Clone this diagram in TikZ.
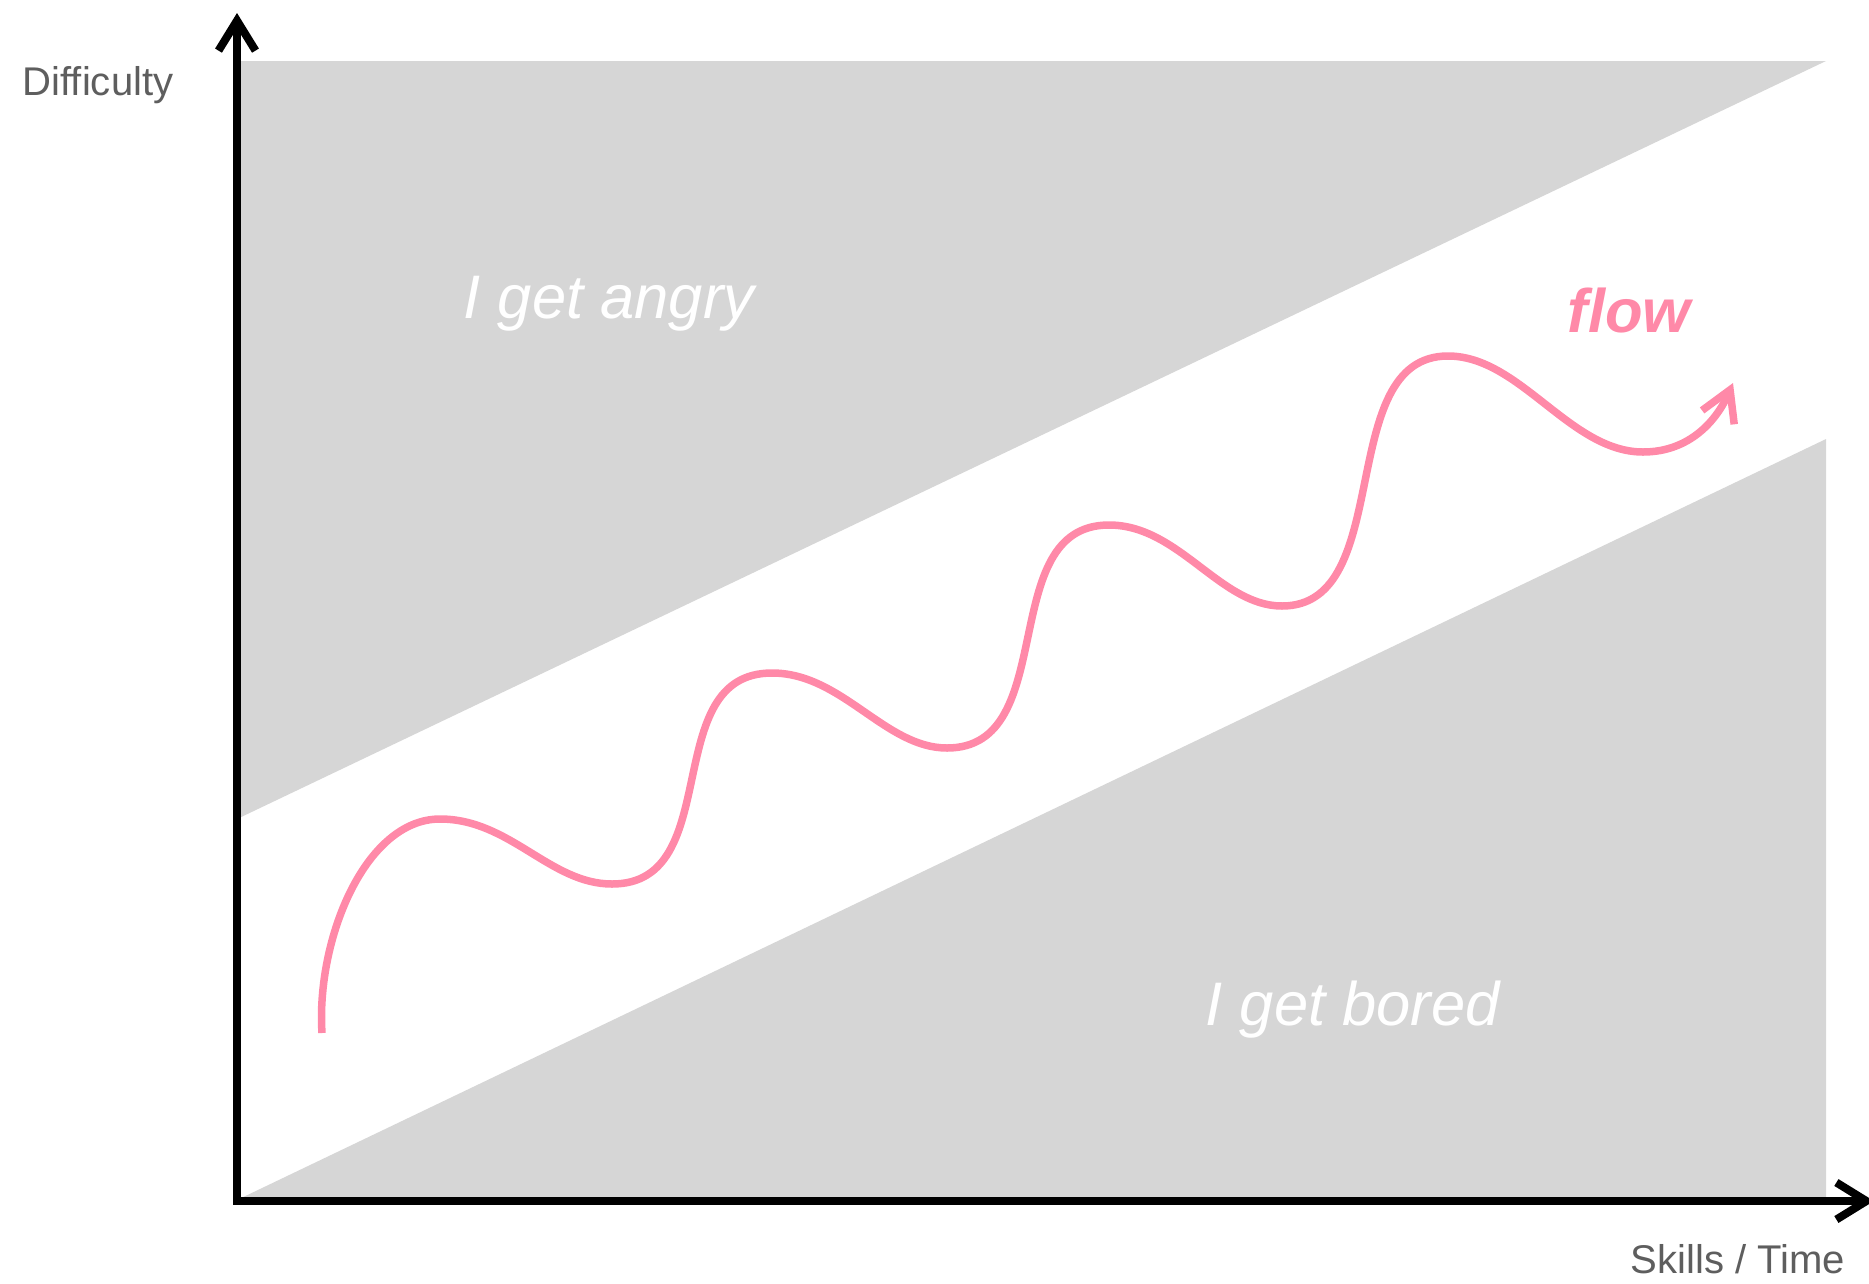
\documentclass[tikz,border=0pt]{standalone}
\usepackage{fontspec}
\setmainfont{Liberation Sans}
\usetikzlibrary{arrows.meta}
\definecolor{czone}{HTML}{D6D6D6}
\definecolor{cflow}{HTML}{FF89A8}
\definecolor{caxis}{HTML}{5E5E5E}

\begin{document}
\begin{tikzpicture}[x=0.1mm, y=-0.1mm,
  zone/.style={fill=czone, draw=none},
  axis/.style={line width=0.8mm,
               {Straight Barb[length=3mm, width=3.7mm]}-{Straight Barb[length=3mm, width=3.7mm]}},
  axislbl/.style={text=caxis, font=\fontsize{11.4pt}{13pt}\selectfont,
                  inner sep=0pt, anchor=base west},
  zonelbl/.style={text=white, font=\fontsize{17.5pt}{20pt}\selectfont\itshape,
                  inner sep=0pt, anchor=base west},
  wave/.style={cflow, line width=0.75mm, -{Straight Barb[length=3mm, width=3.5mm]}}
]
\useasboundingbox (0,0) rectangle (1869,1283);

%% Zones
\fill[zone] (237,61) -- (1826,61) -- (237,819) -- cycle;
\fill[zone] (237,1200) -- (1826,439) -- (1826,1200) -- cycle;

%% Axes
\coordinate (o)    at (237,1201);
\coordinate (ytip) at (237,13);
\coordinate (xtip) at (1874,1201);
\draw[axis] (ytip) -- (o) -- (xtip);

\node[axislbl] (ylbl) at (22,95)    {Difficulty};
\node[axislbl] (xlbl) at (1630,1273) {Skills / Time};

%% Zone labels
\node[zonelbl] (angry) at (463,318)  {I get angry};
\node[zonelbl] (bored) at (1205,1025) {I get bored};
\node[zonelbl, text=cflow, font=\fontsize{17.5pt}{20pt}\selectfont\bfseries\itshape]
  (flow) at (1567,332) {flow};

%% Flow wave
\coordinate (ws) at (322,1033);
\coordinate (we) at (1733,383);
\draw[wave] (ws) .. controls (316,940) and (365,819) .. (440,819)
  .. controls (510,819) and (550,884) .. (612,884)
  .. controls (727,884) and (657,673) .. (772,673)
  .. controls (842,673) and (885,748) .. (947,748)
  .. controls (1062,748) and (994,525) .. (1109,525)
  .. controls (1179,525) and (1220,606) .. (1282,606)
  .. controls (1397,606) and (1333,356) .. (1448,356)
  .. controls (1520,356) and (1570,452) .. (1643,452)
  .. controls (1690,452) and (1717,420) .. (we);

\end{tikzpicture}
\end{document}
